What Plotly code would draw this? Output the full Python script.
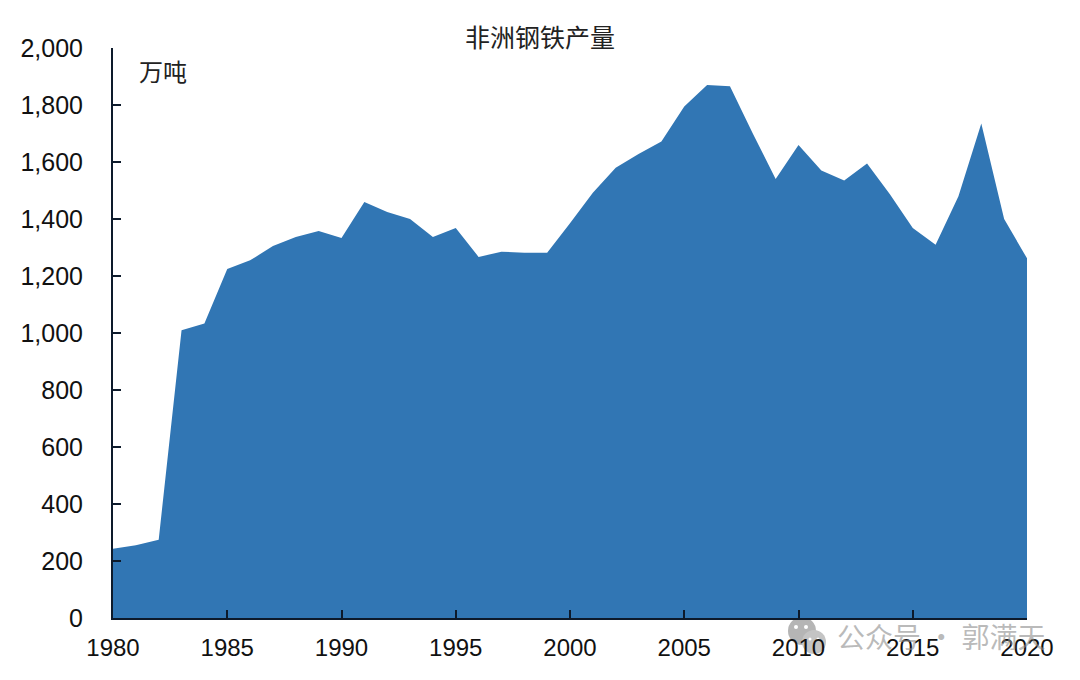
import plotly.graph_objects as go

years = list(range(1980, 2021))
output = [243, 255, 275, 1010, 1033, 1225, 1255, 1305, 1337, 1358,
          1333, 1460, 1425, 1400, 1337, 1368, 1267, 1285, 1282, 1282,
          1385, 1492, 1580, 1628, 1672, 1795, 1870, 1866, 1700, 1540,
          1660, 1570, 1535, 1595, 1487, 1368, 1310, 1480, 1735, 1400, 1262]
title = "非洲钢铁产量"
unit = "万吨"
watermark = "公众号 · 郭满天"
y_ticks = list(range(0, 2001, 200))
x_ticks = list(range(1980, 2021, 5))

# the page adds an 8 px body margin, so page positions are offset by 8
OFF = 8
W, H = 1080 - OFF, 680 - OFF
L, R, T, B = 113 - OFF, 1027 - OFF, 48 - OFF, 618 - OFF
CJK = "Noto Sans CJK SC"
LAT = "Liberation Sans, Arial, sans-serif"
AXIS = "#0d1a2b"
TEXT = "#111111"

def px_x(v): return (v - OFF - L) / (R - L)
def px_y(v): return 1 - (v - OFF - T) / (B - T)

fig = go.Figure(go.Scatter(
    x=years, y=output, mode="none", fill="tozeroy",
    fillcolor="#3176B4", hoverinfo="x+y"))

fig.update_layout(
    width=W, height=H, autosize=False,
    paper_bgcolor="white", plot_bgcolor="white", showlegend=False,
    margin=dict(l=L, r=W - R, t=T, b=H - B, pad=0),
    font=dict(family=LAT, size=24, color=TEXT),
    xaxis=dict(range=[1980, 2020], tickvals=x_ticks, ticks="inside", ticklen=8,
               tickwidth=2, tickcolor=AXIS, showline=True, linewidth=2,
               linecolor=AXIS, showgrid=False, zeroline=False, ticklabelstandoff=7,
               tickfont=dict(family=LAT, size=24, color=TEXT)),
    yaxis=dict(range=[0, 2000], tickvals=y_ticks, tickformat=",d", ticks="inside",
               ticklen=8, tickwidth=2, tickcolor=AXIS, showline=True,
               linewidth=2, linecolor=AXIS, showgrid=False, zeroline=False,
               ticklabelstandoff=23,
               tickfont=dict(family=LAT, size=25, color=TEXT)),
)

for text, cx, cy, size, color in [
    (title, 540, 36, 25, "#222222"),
    (unit, 163, 70, 24, "#222222"),
    (watermark, 941, 636, 28, "rgba(140,140,140,0.6)"),
]:
    fig.add_annotation(text=text, x=px_x(cx), y=px_y(cy), xref="paper", yref="paper",
                       xanchor="center", yanchor="middle", showarrow=False,
                       font=dict(family=CJK, size=size, color=color))

for cx, cy, r, col in [(802, 631, 14, "#b5b5b5"), (796, 627, 2, "#ffffff"),
                       (806, 627, 2, "#ffffff"), (814, 642, 12, "#c4c4c4"),
                       (810, 639, 1.5, "#ffffff"), (818, 639, 1.5, "#ffffff")]:
    fig.add_shape(type="circle", xref="paper", yref="paper", layer="below",
                  x0=px_x(cx - r), x1=px_x(cx + r), y0=px_y(cy + r), y1=px_y(cy - r),
                  fillcolor=col, line_width=0)

fig.write_html("out.html", config=dict(displayModeBar=False))
